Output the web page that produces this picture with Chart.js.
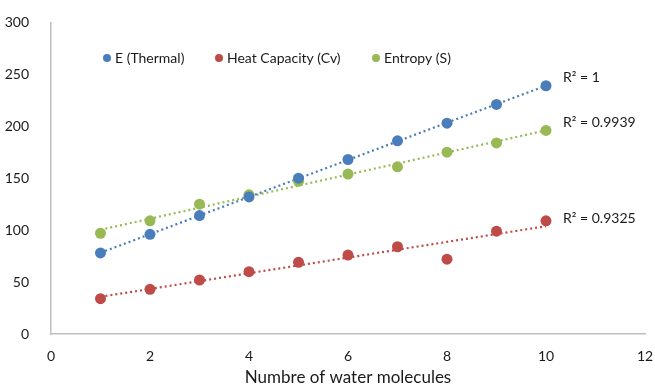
<!DOCTYPE html>
<html>
<head>
<meta charset="UTF-8">
<title>Thermal properties vs water molecules</title>
<script src="https://cdn.jsdelivr.net/npm/chart.js"></script>
<style>
    html, body { margin: 0; padding: 0; background: #ffffff; }
    #wrap { width: 655px; height: 388px; position: relative; }
</style>
</head>
<body>
<div id="wrap"><canvas id="chart"></canvas></div>
<script>
    // values
    const molecules = [1, 2, 3, 4, 5, 6, 7, 8, 9, 10];
    const thermalE = [78, 96, 114, 132, 150, 168, 186, 203, 221, 239];
    const heatCv = [34, 43, 52, 60, 69, 76, 84, 72, 99, 109];
    const entropyS = [97, 109, 125, 134, 147, 154, 161, 175, 184, 196];
    const seriesNames = ['E (Thermal)', 'Heat Capacity (Cv)', 'Entropy (S)'];
    const r2Labels = ['R\u00b2 = 1', 'R\u00b2 = 0.9325', 'R\u00b2 = 0.9939'];
    const colors = ['#4a7ebb', '#be4b48', '#98b954'];
    const fontFam = 'Lato, "Open Sans", sans-serif';

    // least squares trend line, from first to last x
    function trend(xs, ys) {
        const n = xs.length;
        const mx = xs.reduce((a, b) => a + b, 0) / n;
        const my = ys.reduce((a, b) => a + b, 0) / n;
        let sxy = 0, sxx = 0;
        for (let i = 0; i < n; i++) {
            sxy += (xs[i] - mx) * (ys[i] - my);
            sxx += (xs[i] - mx) * (xs[i] - mx);
        }
        const b = sxy / sxx, a = my - b * mx;
        const x0 = xs[0], x1 = xs[n - 1];
        return [{x: x0, y: a + b * x0}, {x: x1, y: a + b * x1}];
    }

    const allSeries = [thermalE, heatCv, entropyS];
    const datasets = [];
    allSeries.forEach((ys, i) => {
        datasets.push({
            label: seriesNames[i],
            data: molecules.map((x, k) => ({x: x, y: ys[k]})),
            showLine: false,
            pointRadius: 5.5,
            pointHoverRadius: 5.5,
            backgroundColor: colors[i],
            borderColor: colors[i],
            borderWidth: 0,
            order: 1
        });
    });
    allSeries.forEach((ys, i) => {
        datasets.push({
            label: 'trend' + i,
            data: trend(molecules, ys),
            showLine: true,
            pointRadius: 0,
            borderColor: colors[i],
            borderWidth: 2.2,
            borderDash: [2, 3],
            isTrend: true,
            r2: r2Labels[i],
            order: 2
        });
    });

    // legend inside plot + R² labels
    const extras = {
        id: 'extras',
        afterDraw(chart) {
            const ctx = chart.ctx;
            ctx.save();
            ctx.font = '14px ' + fontFam;
            ctx.textBaseline = 'middle';
            ctx.fillStyle = '#1a1a1a';
            const legendX = [107, 219, 376];
            seriesNames.forEach((name, i) => {
                ctx.beginPath();
                ctx.arc(legendX[i], 58, 4, 0, Math.PI * 2);
                ctx.fillStyle = colors[i];
                ctx.fill();
                ctx.fillStyle = '#1a1a1a';
                ctx.fillText(name, legendX[i] + 8, 58);
            });
            const xs = chart.scales.x;
            const ys = chart.scales.y;
            chart.data.datasets.forEach(ds => {
                if (!ds.isTrend) return;
                const end = ds.data[ds.data.length - 1];
                ctx.fillText(ds.r2, xs.getPixelForValue(end.x) + 17, ys.getPixelForValue(end.y) - 8);
            });
            ctx.restore();
        }
    };

    new Chart(document.getElementById('chart'), {
        type: 'scatter',
        data: { datasets: datasets },
        plugins: [extras],
        options: {
            responsive: true,
            maintainAspectRatio: false,
            animation: false,
            layout: { padding: { top: 19, right: 10, left: 0, bottom: 0 } },
            plugins: {
                legend: { display: false },
                tooltip: { enabled: false }
            },
            scales: {
                x: {
                    type: 'linear',
                    min: 0, max: 12,
                    ticks: { stepSize: 2, color: '#1a1a1a', font: { family: fontFam, size: 14 }, padding: 6 },
                    grid: { display: false },
                    border: { color: '#bfbfbf', width: 1.5 },
                    title: {
                        display: true,
                        text: 'Numbre of water molecules',
                        color: '#1a1a1a',
                        font: { family: fontFam, size: 17 },
                        padding: { top: 4, bottom: 0 }
                    },
                    afterFit(s) {
                        s.height = 54;
                        s.paddingLeft = 0;
                        s.paddingRight = 0;
                    }
                },
                y: {
                    min: 0, max: 300,
                    ticks: { stepSize: 50, color: '#1a1a1a', font: { family: fontFam, size: 14 }, padding: 14 },
                    grid: { display: false },
                    border: { color: '#bfbfbf', width: 1.5 },
                    afterFit(s) { s.width = 51; }
                }
            }
        }
    });
</script>
</body>
</html>
